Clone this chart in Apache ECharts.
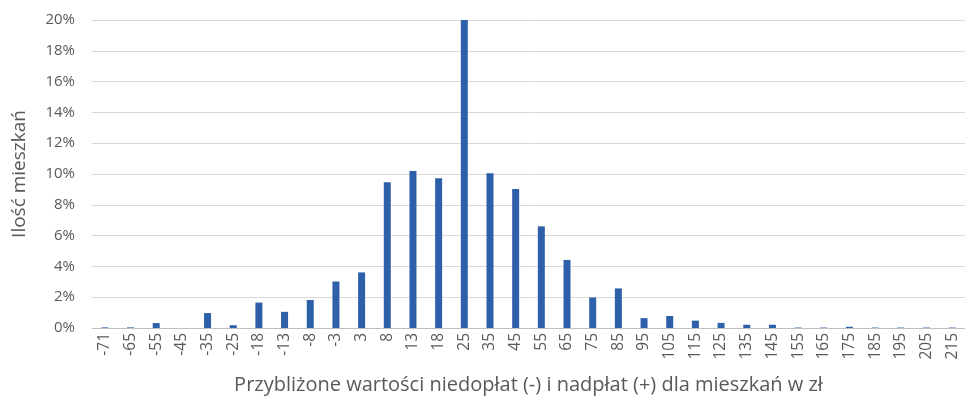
<!DOCTYPE html>
<html>
<head>
<meta charset="utf-8">
<script src="https://cdn.jsdelivr.net/npm/echarts@6/dist/echarts.min.js"></script>
<style>html,body{margin:0;padding:0;background:#fff}#c{width:965px;height:400px}</style>
</head>
<body>
<div id="c"></div>
<script>
const categories = ['-71','-65','-55','-45','-35','-25','-18','-13','-8','-3','3','8','13','18','25','35','45','55','65','75','85','95','105','115','125','135','145','155','165','175','185','195','205','215'];
const shares = [0.04,0.04,0.32,0,0.97,0.18,1.65,1.05,1.82,3.02,3.61,9.47,10.2,9.73,20,10.05,9.02,6.6,4.42,1.98,2.57,0.64,0.78,0.48,0.33,0.21,0.21,0.03,0.03,0.08,0.03,0.03,0.03,0.03];
const yTicks = {min:0, max:20, interval:2};
const xTitle = 'Przybliżone wartości niedopłat (-) i nadpłat (+) dla mieszkań w zł';
const yTitle = 'Ilość mieszkań';

const chart = echarts.init(document.getElementById('c'));
const font = '"Open Sans", sans-serif';
chart.setOption({
  animation:false,
  textStyle:{fontFamily:font},
  grid:{left:92, top:20, width:881, bottom:71, containLabel:false},
  xAxis:{
    type:'category', data:categories,
    axisLine:{lineStyle:{color:'#bfbfbf'}},
    axisTick:{show:false},
    axisLabel:{rotate:90, color:'#595959', fontSize:15.5, fontFamily:font, margin:5, interval:0},
    name:xTitle, nameLocation:'middle', nameGap:47,
    nameTextStyle:{color:'#595959', fontSize:20, fontFamily:font}
  },
  yAxis:{
    type:'value', min:yTicks.min, max:yTicks.max, interval:yTicks.interval,
    axisLine:{show:false}, axisTick:{show:false},
    axisLabel:{formatter:'{value}%', color:'#595959', fontSize:15, fontFamily:font, margin:17},
    splitLine:{lineStyle:{color:'#d9d9d9'}},
    name:yTitle, nameLocation:'middle', nameGap:63, nameRotate:90,
    nameTextStyle:{color:'#595959', fontSize:19, fontFamily:font}
  },
  series:[{type:'bar', data:shares, barWidth:7, itemStyle:{color:'#2E60AA'}}]
});
</script>
</body>
</html>
